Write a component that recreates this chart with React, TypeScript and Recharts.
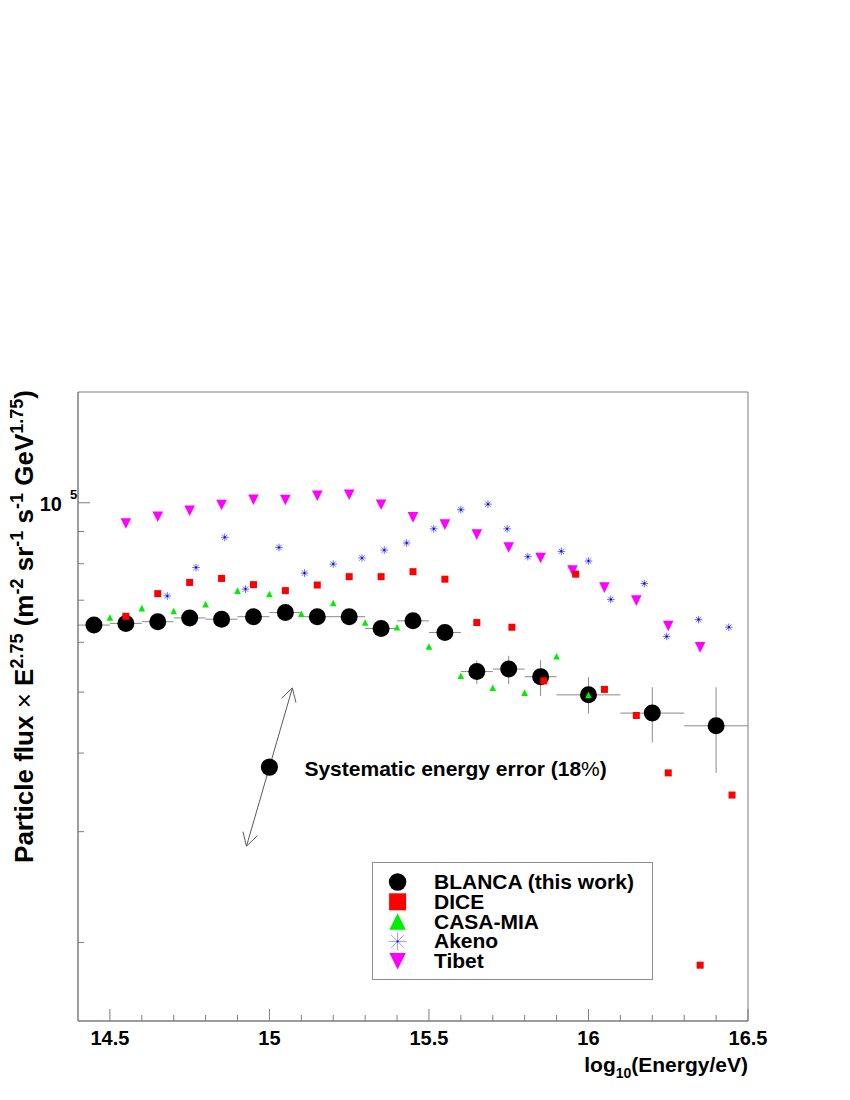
import React from 'react';
import {
  ScatterChart,
  Scatter,
  XAxis,
  YAxis,
  ErrorBar,
  ReferenceArea,
  ReferenceLine,
  ReferenceDot,
  Legend,
  Label,
} from 'recharts';

// ---------------- data ----------------
const blancaE = [14.45, 14.55, 14.65, 14.75, 14.85, 14.95, 15.05, 15.15, 15.25, 15.35, 15.45, 15.55, 15.65, 15.75, 15.85, 16.0, 16.2, 16.4];
const blancaFlux = [63900, 64300, 64700, 65600, 65300, 65900, 66900, 65900, 65900, 63100, 64900, 62200, 53900, 54400, 52900, 49500, 46300, 44200];
const blancaLow = [63200, 63600, 64000, 64900, 64600, 65200, 66100, 65100, 65000, 62300, 64000, 61300, 51500, 51500, 49300, 46200, 41600, 37200];
const blancaHigh = [64600, 65000, 65400, 66300, 66000, 66600, 67700, 66700, 66800, 63900, 65800, 63100, 56100, 57100, 56200, 52800, 50900, 50900];
const blancaBinHalf = [0.05, 0.05, 0.05, 0.05, 0.05, 0.05, 0.05, 0.05, 0.05, 0.05, 0.05, 0.05, 0.05, 0.05, 0.05, 0.1, 0.1, 0.1];

const diceE = [14.55, 14.65, 14.75, 14.85, 14.95, 15.05, 15.15, 15.25, 15.35, 15.45, 15.55, 15.65, 15.76, 15.86, 15.96, 16.05, 16.15, 16.25, 16.35, 16.45];
const diceFlux = [66000, 71700, 74700, 75800, 74100, 72500, 74000, 76300, 76300, 77700, 75600, 64500, 63400, 52100, 77000, 50500, 45900, 37200, 18400, 34300];

const casaE = [14.5, 14.6, 14.7, 14.8, 14.9, 15.0, 15.1, 15.2, 15.3, 15.4, 15.5, 15.6, 15.7, 15.8, 15.9, 16.0];
const casaFlux = [65700, 68000, 67300, 69000, 72500, 71600, 66600, 69300, 64500, 63400, 59100, 53100, 50800, 49900, 57000, 49500];

const akenoE = [14.68, 14.77, 14.86, 14.925, 15.03, 15.11, 15.2, 15.29, 15.36, 15.43, 15.515, 15.6, 15.685, 15.745, 15.81, 15.915, 16.0, 16.07, 16.175, 16.245, 16.345, 16.44];
const akenoFlux = [71100, 78900, 88100, 72900, 84900, 77300, 79900, 81700, 84100, 86300, 90900, 97500, 99500, 90900, 82100, 83700, 80800, 70200, 74400, 61300, 65200, 63400];

const tibetE = [14.55, 14.65, 14.75, 14.85, 14.95, 15.05, 15.15, 15.25, 15.35, 15.45, 15.55, 15.65, 15.75, 15.85, 15.95, 16.05, 16.15, 16.25, 16.35];
const tibetFlux = [92700, 95000, 97100, 99200, 101100, 101000, 102600, 103000, 99300, 94800, 92300, 89000, 84900, 81700, 78000, 73300, 69900, 63700, 58900];

// systematic energy error marker
const sysE = 15.0;
const sysFlux = 38000;
const sysFraction = 0.18;
const fluxIndex = 1.75; // E^2.75 weighting of an E^-1 ... shift exponent

const xDomain = [14.4, 16.5];
const yDomain = [15000, 150000];
const xTicks = [14.5, 14.6, 14.7, 14.8, 14.9, 15, 15.1, 15.2, 15.3, 15.4, 15.5, 15.6, 15.7, 15.8, 15.9, 16, 16.1, 16.2, 16.3, 16.4, 16.5];
const yTicks = [20000, 30000, 40000, 50000, 60000, 70000, 80000, 90000, 100000];
const yMajorTicks = [100000];

const xTitleMain = 'log';
const xTitleSub = '10';
const xTitleRest = '(Energy/eV)';
const sysText = 'Systematic energy error (18';

// ---------------- styles ----------------
const FONT = '"Liberation Sans", Arial, Helvetica, sans-serif';
const AXIS_GREY = '#7d7d7d';
const ERR_GREY = '#8a8a8a';

type MarkerKind = 'circle' | 'square' | 'triUp' | 'triDown' | 'asterisk';

const series = [
  { key: 'blanca', name: 'BLANCA (this work)', marker: 'circle' as MarkerKind, color: '#000000', size: 17, legendSize: 17.5 },
  { key: 'dice', name: 'DICE', marker: 'square' as MarkerKind, color: '#ff0000', size: 7, legendSize: 17 },
  { key: 'casa', name: 'CASA-MIA', marker: 'triUp' as MarkerKind, color: '#00ee00', size: 6.6, legendSize: 16.5 },
  { key: 'akeno', name: 'Akeno', marker: 'asterisk' as MarkerKind, color: '#2020ff', size: 7.6, legendSize: 18 },
  { key: 'tibet', name: 'Tibet', marker: 'triDown' as MarkerKind, color: '#ff00ff', size: 10.6, legendSize: 16.5 },
];

const drawMarker = (kind: MarkerKind, cx: number, cy: number, s: number, color: string, key?: string) => {
  const h = s / 2;
  switch (kind) {
    case 'circle':
      return <circle key={key} cx={cx} cy={cy} r={h} fill={color} />;
    case 'square':
      return <rect key={key} x={cx - h} y={cy - h} width={s} height={s} fill={color} />;
    case 'triUp':
      return <polygon key={key} points={`${cx},${cy - h} ${cx - h},${cy + h} ${cx + h},${cy + h}`} fill={color} />;
    case 'triDown':
      return <polygon key={key} points={`${cx - h},${cy - h} ${cx + h},${cy - h} ${cx},${cy + h}`} fill={color} />;
    case 'asterisk': {
      const d = h * 0.7071;
      return (
        <g key={key} stroke={color} strokeWidth={0.9} strokeOpacity={0.75}>
          <line x1={cx - h} y1={cy} x2={cx + h} y2={cy} />
          <line x1={cx} y1={cy - h} x2={cx} y2={cy + h} />
          <line x1={cx - d} y1={cy - d} x2={cx + d} y2={cy + d} />
          <line x1={cx - d} y1={cy + d} x2={cx + d} y2={cy - d} />
          <circle cx={cx} cy={cy} r={1} fill="#0000ff" stroke="none" />
        </g>
      );
    }
  }
  return null;
};

const makeShape = (idx: number) => (p: any) => {
  const s = series[idx];
  if (p.cx == null || p.cy == null) return <g />;
  return drawMarker(s.marker, p.cx, p.cy, s.size, s.color);
};

// ---------------- table building ----------------
const blancaData = blancaE.map((e, i) => ({
  x: e,
  y: blancaFlux[i],
  ex: blancaBinHalf[i],
  ey: [blancaFlux[i] - blancaLow[i], blancaHigh[i] - blancaFlux[i]],
}));
const diceData = diceE.map((e, i) => ({ x: e, y: diceFlux[i] }));
const casaData = casaE.map((e, i) => ({ x: e, y: casaFlux[i] }));
const akenoData = akenoE.map((e, i) => ({ x: e, y: akenoFlux[i] }));
const tibetData = tibetE.map((e, i) => ({ x: e, y: tibetFlux[i] }));

const dLogE = Math.log10(1 + sysFraction);
const fluxFactor = Math.pow(1 + sysFraction, fluxIndex);
const arrowSegment = [
  { x: sysE - dLogE, y: sysFlux / fluxFactor },
  { x: sysE + dLogE, y: sysFlux * fluxFactor },
];

// ---------------- custom pieces ----------------
const isMajorX = (v: number) => Math.abs(v * 2 - Math.round(v * 2)) < 1e-6;

const XTick = (props: any) => {
  const { x, y, payload } = props;
  const v = payload.value as number;
  const major = isMajorX(v);
  return (
    <g>
      <line x1={x} x2={x} y1={y} y2={y - (major ? 12 : 6)} stroke={AXIS_GREY} strokeWidth={1} />
      {major && (
        <text x={x} y={y + 24} textAnchor="middle" fontFamily={FONT} fontWeight="bold" fontSize={20} fill="#000">
          {String(v)}
        </text>
      )}
    </g>
  );
};

const YTick = (props: any) => {
  const { x, y, payload } = props;
  const v = payload.value as number;
  const major = yMajorTicks.includes(v);
  const exp = Math.round(Math.log10(v));
  return (
    <g>
      <line x1={x} x2={x + (major ? 12 : 6)} y1={y} y2={y} stroke={AXIS_GREY} strokeWidth={1} />
      {major && (
        <g fontFamily={FONT} fontWeight="bold" fill="#000">
          <text x={x - 16} y={y + 8} textAnchor="end" fontSize={20}>10</text>
          <text x={x - 8} y={y - 3.5} textAnchor="start" fontSize={13}>{String(exp)}</text>
        </g>
      )}
    </g>
  );
};

const XTitle = (props: any) => {
  const vb = props.viewBox || {};
  const tx = vb.x + vb.width;
  const ty = vb.y + 51;
  return (
    <text x={tx} y={ty} textAnchor="end" fontFamily={FONT} fontWeight="bold" fontSize={21} fill="#000">
      {xTitleMain}
      <tspan dy={6} fontSize={14}>{xTitleSub}</tspan>
      <tspan dy={-6}>{xTitleRest}</tspan>
    </text>
  );
};

const YTitle = (props: any) => {
  const vb = props.viewBox || {};
  const tx = vb.x + 15;
  const ty = vb.y - 2;
  const sup = 18;
  const up = -10;
  return (
    <text
      x={tx}
      y={ty}
      transform={`rotate(-90, ${tx}, ${ty})`}
      textAnchor="end"
      fontFamily={FONT}
      fontWeight="bold"
      fontSize={26}
      fill="#000"
    >
      {'Particle flux '}
      <tspan fontWeight="normal">{'\u00d7'}</tspan>
      <tspan>{' E'}</tspan>
      <tspan dy={up} fontSize={sup}>2.75</tspan>
      <tspan dy={-up}>{' (m'}</tspan>
      <tspan dy={up} fontSize={sup}>-2</tspan>
      <tspan dy={-up}>{' sr'}</tspan>
      <tspan dy={up} fontSize={sup}>-1</tspan>
      <tspan dy={-up}>{' s'}</tspan>
      <tspan dy={up} fontSize={sup}>-1</tspan>
      <tspan dy={-up}>{' GeV'}</tspan>
      <tspan dy={up} fontSize={sup}>1.75</tspan>
      <tspan dy={-up}>)</tspan>
    </text>
  );
};

const ArrowShape = (p: any) => {
  const { x1, y1, x2, y2 } = p;
  if ([x1, y1, x2, y2].some((v) => v == null || Number.isNaN(v))) return <g />;
  const head = (tx: number, ty: number, fx: number, fy: number) => {
    const dx = fx - tx;
    const dy = fy - ty;
    const L = Math.hypot(dx, dy) || 1;
    const ux = dx / L;
    const uy = dy / L;
    const a = Math.PI / 6;
    const len = 15;
    const c = Math.cos(a);
    const s = Math.sin(a);
    const r1x = ux * c - uy * s;
    const r1y = ux * s + uy * c;
    const r2x = ux * c + uy * s;
    const r2y = -ux * s + uy * c;
    return `M${tx + r1x * len},${ty + r1y * len} L${tx},${ty} L${tx + r2x * len},${ty + r2y * len}`;
  };
  return (
    <g stroke="#5a5a5a" strokeWidth={1} fill="none">
      <line x1={x1} y1={y1} x2={x2} y2={y2} />
      <path d={head(x1, y1, x2, y2)} />
      <path d={head(x2, y2, x1, y1)} />
    </g>
  );
};

const SysDot = (p: any) => {
  const { cx, cy } = p;
  if (cx == null || cy == null) return <g />;
  return (
    <g>
      <circle cx={cx} cy={cy} r={8.6} fill="#000" />
      <text x={cx + 35} y={cy + 9.3} fontFamily={FONT} fontWeight="bold" fontSize={21} fill="#000">
        {sysText}
        <tspan fontWeight="normal">%</tspan>
        {')'}
      </text>
    </g>
  );
};

const LEG_W = 281;
const LEG_H = 118;

const LegendBox = () => (
  <svg width={LEG_W} height={LEG_H} style={{ display: 'block' }}>
    <rect x={0.5} y={0.5} width={LEG_W - 1} height={LEG_H - 1} fill="#fff" stroke="#8c8c8c" strokeWidth={1} />
    {series.map((s, i) => {
      const rowY = 20 + i * 19.8;
      return (
        <g key={s.key}>
          {s.marker === 'asterisk'
            ? (
              <g>
                {drawMarker('asterisk', 25.6, rowY, s.legendSize, '#6a6aff')}
              </g>
            )
            : drawMarker(s.marker, 25.6, rowY, s.legendSize, s.color)}
          <text x={62} y={rowY + 7} fontFamily={FONT} fontWeight="bold" fontSize={21} fill="#000">
            {s.name}
          </text>
        </g>
      );
    })}
  </svg>
);

export default function App() {
  return (
    <ScatterChart width={842} height={1092} margin={{ top: 384, right: 102, bottom: 49, left: 10 }}>
      <XAxis
        type="number"
        dataKey="x"
        domain={xDomain}
        ticks={xTicks}
        interval={0}
        allowDataOverflow
        height={30}
        tickSize={0}
        tickMargin={0}
        tickLine={false}
        axisLine={{ stroke: AXIS_GREY }}
        tick={XTick}
      >
        <Label content={XTitle} />
      </XAxis>
      <YAxis
        type="number"
        dataKey="y"
        scale="log"
        domain={yDomain}
        ticks={yTicks}
        interval={0}
        allowDataOverflow
        width={60}
        tickSize={0}
        tickMargin={0}
        tickLine={false}
        axisLine={{ stroke: AXIS_GREY }}
        tick={YTick}
      >
        <Label content={YTitle} />
      </YAxis>
      <ReferenceArea
        x1={xDomain[0]}
        x2={xDomain[1]}
        y1={yDomain[0]}
        y2={yDomain[1]}
        fill="none"
        fillOpacity={0}
        stroke={AXIS_GREY}
        strokeWidth={1}
        ifOverflow="visible"
      />
      <Scatter name={series[0].name} data={blancaData} shape={makeShape(0)} isAnimationActive={false}>
        <ErrorBar dataKey="ex" direction="x" width={0} stroke={ERR_GREY} strokeWidth={1} isAnimationActive={false} />
        <ErrorBar dataKey="ey" direction="y" width={0} stroke={ERR_GREY} strokeWidth={1} isAnimationActive={false} />
      </Scatter>
      <Scatter name={series[4].name} data={tibetData} shape={makeShape(4)} isAnimationActive={false} />
      <Scatter name={series[3].name} data={akenoData} shape={makeShape(3)} isAnimationActive={false} />
      <Scatter name={series[2].name} data={casaData} shape={makeShape(2)} isAnimationActive={false} />
      <Scatter name={series[1].name} data={diceData} shape={makeShape(1)} isAnimationActive={false} />
      <ReferenceLine segment={arrowSegment} shape={ArrowShape} ifOverflow="visible" />
      <ReferenceDot x={sysE} y={sysFlux} shape={SysDot} ifOverflow="visible" />
      <Legend
        layout="vertical"
        align="center"
        verticalAlign="middle"
        content={LegendBox}
        wrapperStyle={{ left: 363.7, top: 853.7, width: LEG_W, height: LEG_H }}
      />
    </ScatterChart>
  );
}
